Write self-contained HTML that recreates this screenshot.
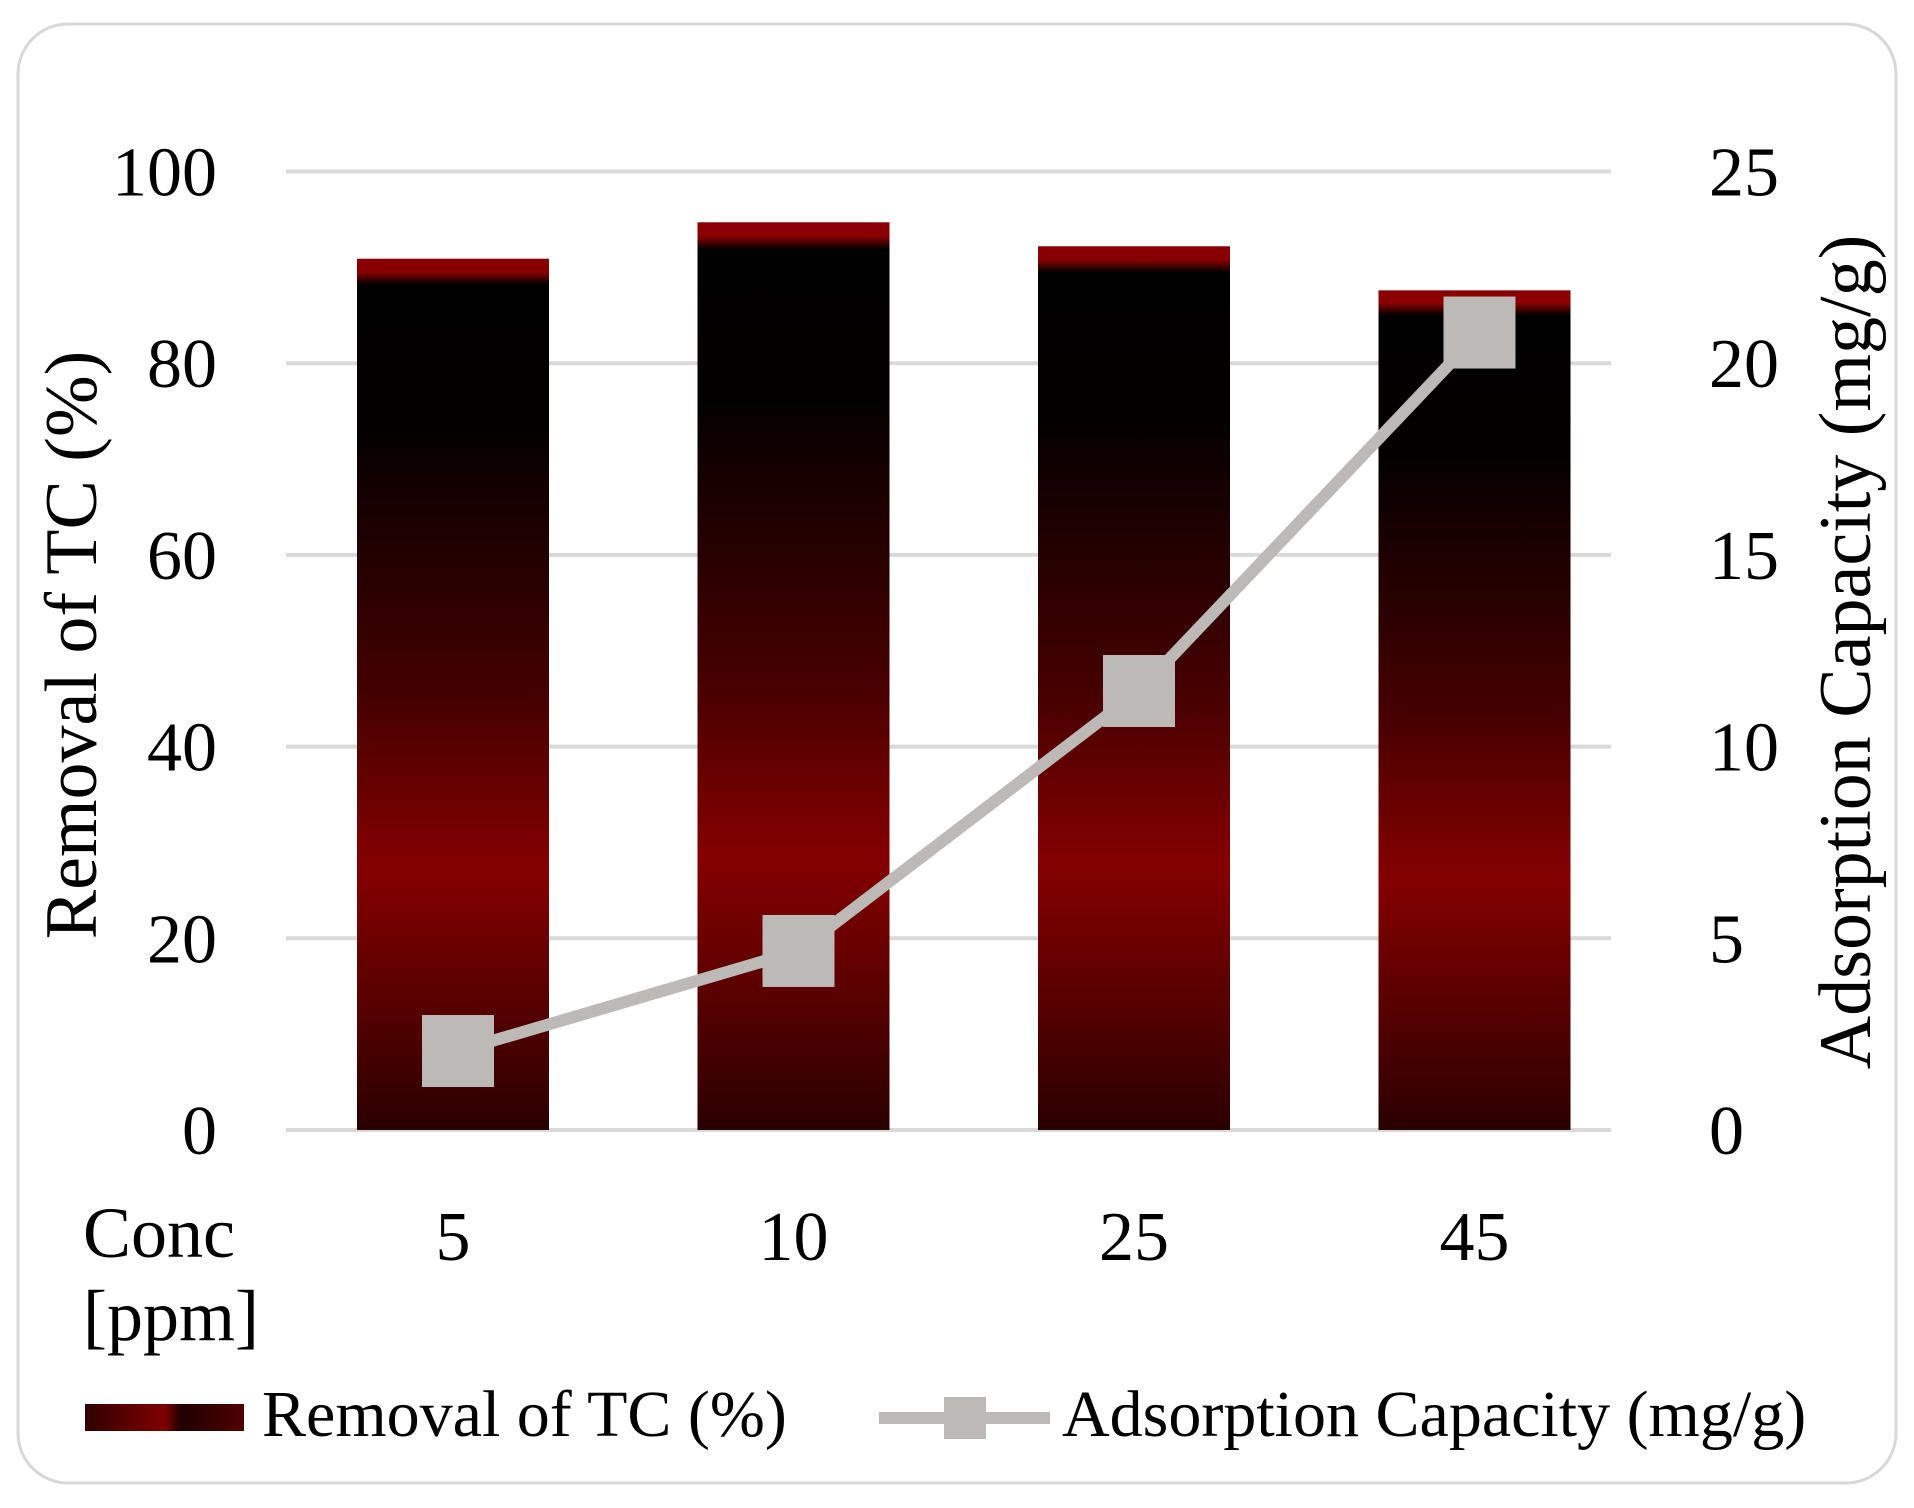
<!DOCTYPE html>
<html><head><meta charset="utf-8"><style>
body{margin:0;background:#fff;}
svg{display:block;font-family:"Liberation Serif",serif;}
</style></head><body>
<svg id="chart" width="1914" height="1508">
<defs>
<linearGradient id="barGrad" x1="0" y1="0" x2="0" y2="1">
<stop offset="0" stop-color="#8a0000"/>
<stop offset="0.015" stop-color="#8a0000"/>
<stop offset="0.03" stop-color="#000"/>
<stop offset="0.2" stop-color="#050000"/>
<stop offset="0.5" stop-color="#450000"/>
<stop offset="0.7" stop-color="#850000"/>
<stop offset="0.88" stop-color="#500000"/>
<stop offset="1" stop-color="#2a0000"/>
</linearGradient>
<linearGradient id="legGrad" x1="0" y1="0" x2="1" y2="0">
<stop offset="0" stop-color="#300000"/><stop offset="0.5" stop-color="#800000"/><stop offset="0.6" stop-color="#200000"/><stop offset="1" stop-color="#500000"/>
</linearGradient>
</defs>
<rect x="18" y="24" width="1878" height="1459" rx="50" fill="#fff" stroke="#d8d8d8" stroke-width="3"/>
<g id="grid"></g><g id="bars"></g><g id="line"></g><g id="labels"></g>
<text x="0" y="0" transform="translate(96,645) rotate(-90)" text-anchor="middle" font-size="74" fill="#000">Removal of TC (%)</text>
<text x="0" y="0" transform="translate(1870,652) rotate(-90)" text-anchor="middle" font-size="74" fill="#000">Adsorption Capacity (mg/g)</text>
<text x="83" y="1257" font-size="72">Conc</text>
<text x="83" y="1340" font-size="72">[ppm]</text>
<rect x="85" y="1404" width="159" height="27" fill="url(#legGrad)"/>
<text x="262" y="1436" font-size="66">Removal of TC (%)</text>
<line x1="879" y1="1418" x2="1050" y2="1418" stroke="#bdb9b7" stroke-width="12"/>
<rect x="944" y="1397" width="42" height="42" fill="#bdb9b7"/>
<text x="1062" y="1436" font-size="66">Adsorption Capacity (mg/g)</text>
</svg>
<script>
const categories=["5","10","25","45"];
const removal=[90.9,94.7,92.2,87.6];
const capacity=[2.06,4.67,11.45,20.8];
const leftTicks=[0,20,40,60,80,100];
const rightTicks=[0,5,10,15,20,25];
const NS="http://www.w3.org/2000/svg";
const y0=1130,yTop=171.5;
const yL=v=>y0-(v/100)*(y0-yTop);
const yR=v=>y0-(v/25)*(y0-yTop);
const xC=i=>453+i*340.5;
function mk(t,a,p){const e=document.createElementNS(NS,t);for(const k in a)e.setAttribute(k,a[k]);p.appendChild(e);return e;}
const g=document.getElementById('grid'),b=document.getElementById('bars'),l=document.getElementById('line'),lb=document.getElementById('labels');
leftTicks.forEach((v,i)=>{
 const ln=mk('line',{x1:286,x2:1611,y1:yL(v),y2:yL(v),stroke:'#d9d9d9','stroke-width':4},g);
 
 
 const t=mk('text',{x:217,y:yL(v)+24,'text-anchor':'end','font-size':70},lb);t.textContent=v;
 
 
});
rightTicks.forEach(v=>{
 const t=mk('text',{x:1709,y:yR(v)+24,'font-size':70},lb);t.textContent=v;
 
 
});
categories.forEach((c,i)=>{
 const r=mk('rect',{x:xC(i)-96,y:yL(removal[i]),width:192,height:y0-yL(removal[i]),fill:'url(#barGrad)'},b);
 
 
 const t=mk('text',{x:xC(i),y:1260,'text-anchor':'middle','font-size':70},lb);t.textContent=c;
 
 
});
const pts=capacity.map((v,i)=>(xC(i)+5)+','+yR(v)).join(' ');
const pl=mk('polyline',{points:pts,fill:'none',stroke:'#bdb9b7','stroke-width':12},l);


capacity.forEach((v,i)=>{
 const m=mk('rect',{x:xC(i)+5-36,y:yR(v)-36,width:72,height:72,fill:'#bdb9b7'},l);
 
 
});
</script>
</body></html>
